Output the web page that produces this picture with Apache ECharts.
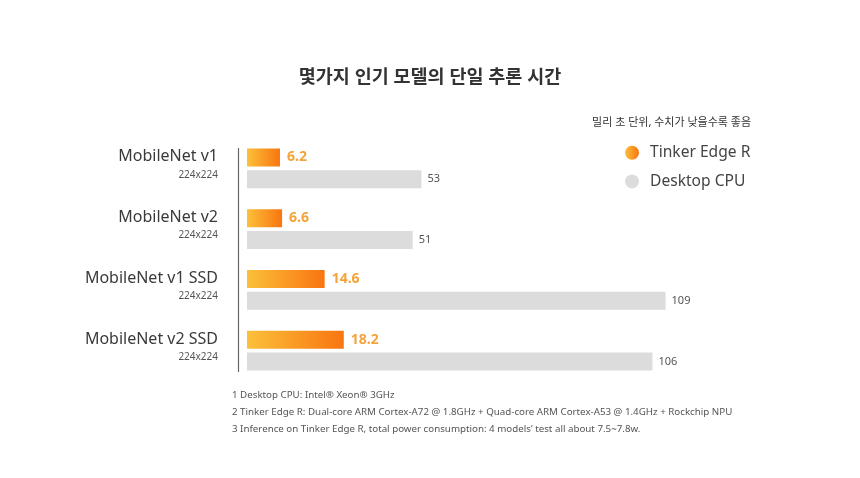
<!DOCTYPE html>
<html>
<head>
<meta charset="utf-8">
<script src="https://cdn.jsdelivr.net/npm/echarts@6/dist/echarts.min.js"></script>
<style>
html,body{margin:0;padding:0;background:#fff;}
#main{width:860px;height:478px;}
</style>
</head>
<body>
<div id="main"></div>
<script>
const categories = ['MobileNet v1', 'MobileNet v2', 'MobileNet v1 SSD', 'MobileNet v2 SSD'];
const resolutions = ['224x224', '224x224', '224x224', '224x224'];
const seriesNames = ['Tinker Edge R', 'Desktop CPU'];
const tinkerValues = [6.2, 6.6, 14.6, 18.2];
const desktopValues = [53, 51, 109, 106];
const titleText = '몇가지 인기 모델의 단일 추론 시간';
const unitNote = '밀리 초 단위, 수치가 낮을수록 좋음';
const footnotes = [
  '1 Desktop CPU: Intel® Xeon® 3GHz',
  '2 Tinker Edge R: Dual-core ARM Cortex-A72 @ 1.8GHz + Quad-core ARM Cortex-A53 @ 1.4GHz + Rockchip NPU',
  '3 Inference on Tinker Edge R, total power consumption: 4 models\u2019 test all about 7.5~7.8w.'
];

const FONT = "'Noto Sans', 'Noto Sans CJK KR', sans-serif";
const chart = echarts.init(document.getElementById('main'), null, {renderer: 'canvas'});

const orangeGrad = new echarts.graphic.LinearGradient(0, 0, 1, 0, [
  {offset: 0, color: '#fcc03a'},
  {offset: 1, color: '#f87510'}
]);

chart.setOption({
  backgroundColor: '#ffffff',
  animation: false,
  textStyle: {fontFamily: FONT},
  title: [
    {
      text: titleText, left: 'center', top: 61,
      textStyle: {fontFamily: FONT, fontSize: 18.5, fontWeight: 'bold', color: '#333', lineHeight: 24}
    },
    {
      text: unitNote, right: 104, top: 110,
      textStyle: {fontFamily: FONT, fontSize: 11, fontWeight: 'normal', color: '#333', lineHeight: 16}
    },
    {
      text: footnotes.join('\n'), left: 227, top: 382,
      textStyle: {fontFamily: FONT, fontSize: 9.75, fontWeight: 'normal', color: '#555', lineHeight: 17}
    }
  ],
  legend: {
    orient: 'vertical', left: 620, top: 140,
    icon: 'circle', itemWidth: 14, itemHeight: 14, itemGap: 13,
    data: seriesNames,
    textStyle: {fontFamily: FONT, fontSize: 15.6, color: '#444', padding: [0, 0, 0, 6]}
  },
  grid: {left: 247, top: 138, width: 436, height: 243, containLabel: false},
  xAxis: [
    {type: 'value', min: 0, max: 82, show: false},
    {type: 'value', min: 13, max: 113, show: false}
  ],
  yAxis: {
    type: 'category', inverse: true, data: categories,
    axisLine: {show: false}, axisTick: {show: false}, splitLine: {show: false},
    axisLabel: {
      margin: 29, align: 'right', padding: [0, 0, 7, 0],
      formatter: function (v, i) { return '{a|' + v + '}\n{b|' + resolutions[i] + '}'; },
      rich: {
        a: {fontFamily: FONT, fontSize: 16, color: '#3a3a3a', lineHeight: 20, align: 'right'},
        b: {fontFamily: FONT, fontSize: 10, color: '#555', lineHeight: 16, align: 'right'}
      }
    }
  },
  graphic: [
    {type: 'line', shape: {x1: 238.5, y1: 148, x2: 238.5, y2: 372}, style: {stroke: '#666', lineWidth: 1.2}, silent: true}
  ],
  series: [
    {
      name: seriesNames[0], type: 'bar', xAxisIndex: 0, yAxisIndex: 0,
      data: tinkerValues, barWidth: 18, barGap: '22%',
      itemStyle: {color: orangeGrad},
      label: {show: true, position: 'right', distance: 7, fontFamily: FONT, fontSize: 14, fontWeight: 'bold', color: '#f5a33b'}
    },
    {
      name: seriesNames[1], type: 'bar', xAxisIndex: 1, yAxisIndex: 0,
      data: desktopValues, barWidth: 18, barGap: '22%', clip: true,
      itemStyle: {color: '#dcdcdc'},
      label: {show: true, position: 'right', distance: 6, fontFamily: FONT, fontSize: 11, color: '#555'}
    }
  ]
});
</script>
</body>
</html>
